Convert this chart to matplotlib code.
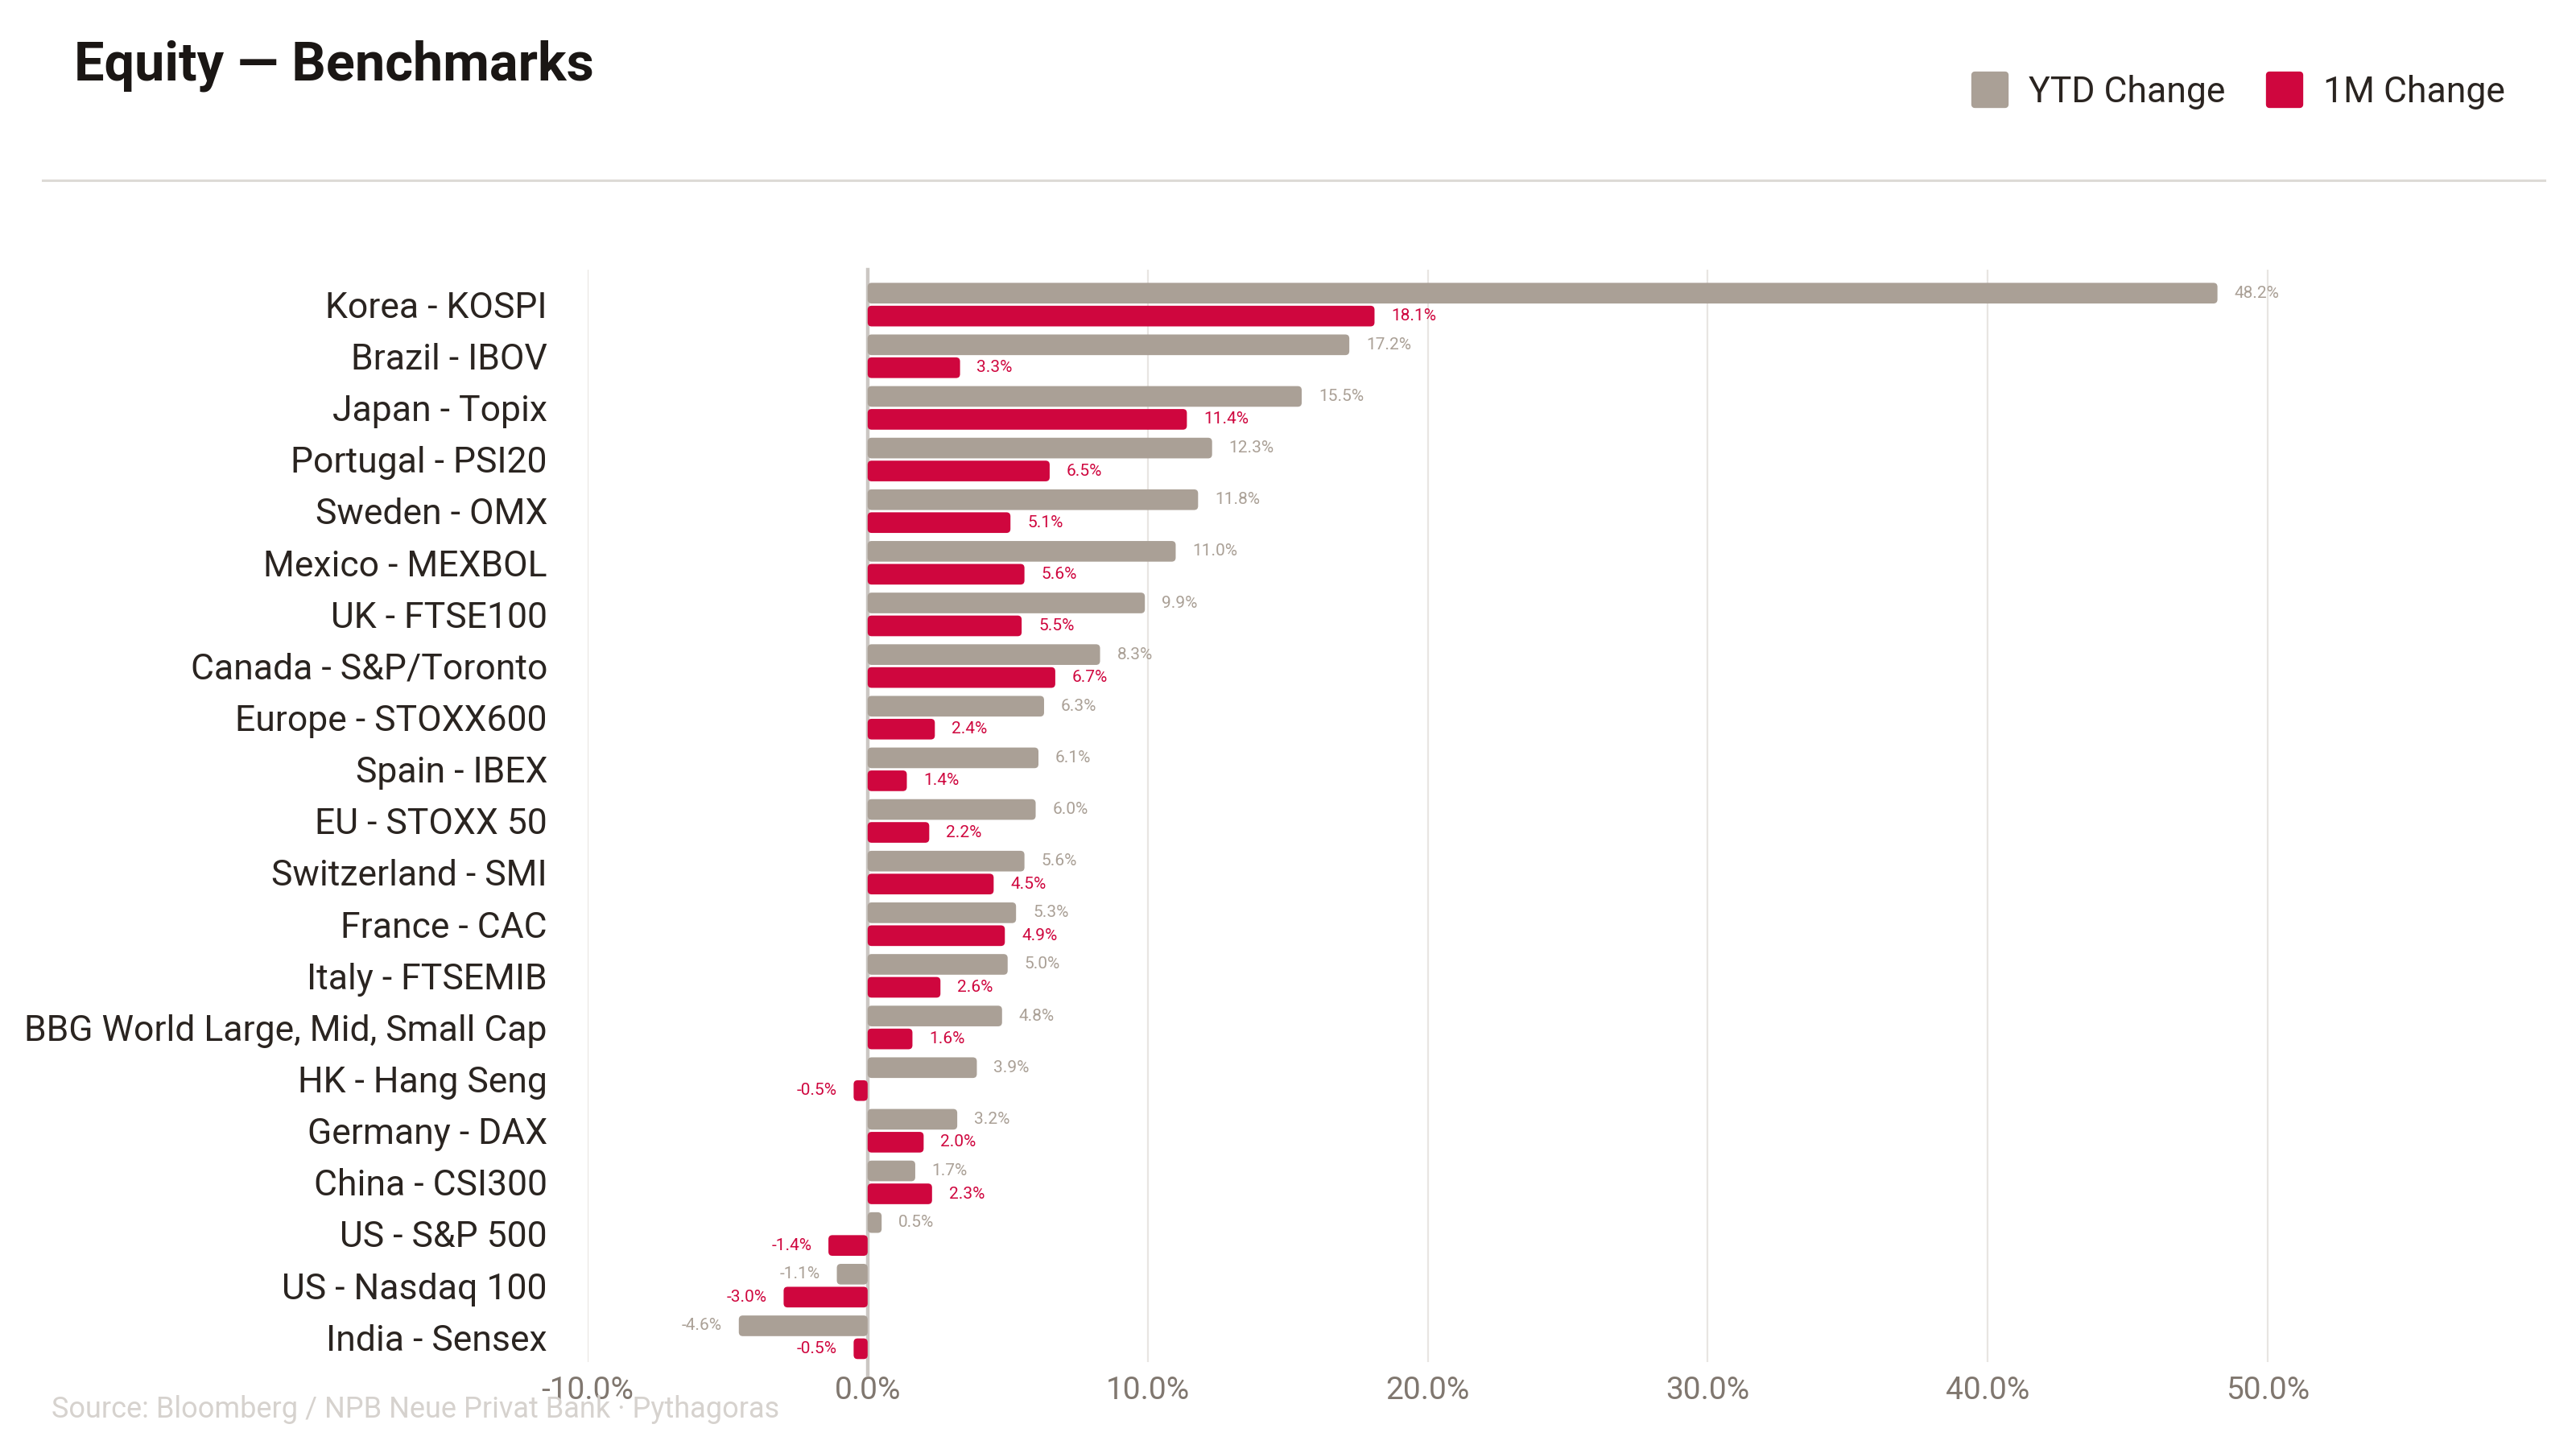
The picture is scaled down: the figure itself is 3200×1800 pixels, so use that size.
import numpy as np
import matplotlib.pyplot as plt
from matplotlib.patches import FancyBboxPatch, Patch
from matplotlib.lines import Line2D

# ------------------------------------------------------------
# data (% change)
# ------------------------------------------------------------
indices = ["Korea - KOSPI", "Brazil - IBOV", "Japan - Topix", "Portugal - PSI20",
           "Sweden - OMX", "Mexico - MEXBOL", "UK - FTSE100", "Canada - S&P/Toronto",
           "Europe - STOXX600", "Spain - IBEX", "EU - STOXX 50", "Switzerland - SMI",
           "France - CAC", "Italy - FTSEMIB", "BBG World Large, Mid, Small Cap",
           "HK - Hang Seng", "Germany - DAX", "China - CSI300", "US - S&P 500",
           "US - Nasdaq 100", "India - Sensex"]
ytd = [48.2, 17.2, 15.5, 12.3, 11.8, 11.0, 9.9, 8.3, 6.3, 6.1, 6.0,
       5.6, 5.3, 5.0, 4.8, 3.9, 3.2, 1.7, 0.5, -1.1, -4.6]
one_m = [18.1, 3.3, 11.4, 6.5, 5.1, 5.6, 5.5, 6.7, 2.4, 1.4, 2.2,
         4.5, 4.9, 2.6, 1.6, -0.5, 2.0, 2.3, -1.4, -3.0, -0.5]
xticks = [-10, 0, 10, 20, 30, 40, 50]

grey = "#aaa096"
red = "#cf063e"
dark = "#2a2420"

plt.rcParams['font.family'] = ['Roboto', 'DejaVu Sans']

fig = plt.figure(figsize=(16, 9), dpi=200)
ax = fig.add_axes([0.2281, 0.0600, 0.761, 0.754])

y = np.arange(len(indices))
bh = 0.40
off = 0.222
bars_ytd = ax.barh(y - off, ytd, height=bh, color=grey)
bars_1m = ax.barh(y + off, one_m, height=bh, color=red)

ax.set_xlim(-10, 60)
ax.set_ylim(len(indices) - 0.52, -0.68)

#-------------------------------------------------------------
# swap the plain rectangles for rounded ones
#-------------------------------------------------------------
pts = ax.transData.transform([(0, 0), (1, 1)])
dx_px = abs(pts[1, 0] - pts[0, 0])
dy_px = abs(pts[1, 1] - pts[0, 1])
aspect = dx_px / dy_px
for bars in (bars_ytd, bars_1m):
    for b in bars:
        x0 = min(b.get_x(), b.get_x() + b.get_width())
        w = abs(b.get_width())
        y0 = min(b.get_y(), b.get_y() + b.get_height())
        h = abs(b.get_height())
        r = min(5.0 / dx_px, w / 2)
        p = FancyBboxPatch((x0, y0), w, h,
                           boxstyle=f"round,pad=0,rounding_size={r}",
                           mutation_aspect=aspect, fc=b.get_facecolor(),
                           ec="none", zorder=3)
        ax.add_patch(p)
        b.set_visible(False)

# value labels
for vals, pos, col in ((ytd, y - off, grey), (one_m, y + off, red)):
    for v, yy in zip(vals, pos):
        ax.annotate(f"{v:.1f}%", (v, yy), xytext=(7.5 if v >= 0 else -7.5, 0),
                    textcoords="offset points", ha="left" if v >= 0 else "right",
                    va="center", fontsize=7.5, color=col, zorder=4)

# axes styling
ax.set_xticks(xticks)
ax.set_xticklabels([f"{t:.1f}%" for t in xticks], fontsize=14, color="#80776f")
ax.set_yticks(y)
ax.set_yticklabels(indices, fontsize=16, color=dark, va="center_baseline")
ax.tick_params(axis="both", length=0)
ax.tick_params(axis="y", pad=18)
ax.tick_params(axis="x", pad=6)
for s in ax.spines.values():
    s.set_visible(False)
ax.grid(axis="x", color="#e8e5e2", lw=0.8)
ax.set_axisbelow(True)
ax.axvline(0, ymin=-0.012, ymax=1, color="#cbc7c3", lw=1.6, zorder=2, clip_on=False)

# title, rule, legend, source
fig.text(92 / 3200, 1 - 100 / 1800, "Equity — Benchmarks", fontsize=24,
         fontweight="bold", color="#1a1614", va="baseline")
fig.add_artist(Line2D([53 / 3200, 3161 / 3200], [1 - 224 / 1800] * 2,
                      color="#dddad6", lw=1.1))
handles = [Patch(fc=grey, ec=grey, label="YTD Change"),
           Patch(fc=red, ec=red, label="1M Change")]
leg = fig.legend(handles=handles, loc="center right", ncol=2, frameon=False,
                 bbox_to_anchor=(3112 / 3200, 1 - 114 / 1800), fontsize=16,
                 handlelength=0.85, handleheight=0.9, handletextpad=0.65,
                 columnspacing=1.25, borderpad=0, borderaxespad=0)
for t in leg.get_texts():
    t.set_color(dark)
for p in leg.get_patches():
    p.set_joinstyle("round")
    p.set_linewidth(3)

fig.text(64 / 3200, 1 - 1761 / 1800,
         "Source: Bloomberg / NPB Neue Privat Bank · Pythagoras",
         fontsize=13, color="#d6d2ce", va="baseline")

fig.savefig("out.png", dpi=200)
